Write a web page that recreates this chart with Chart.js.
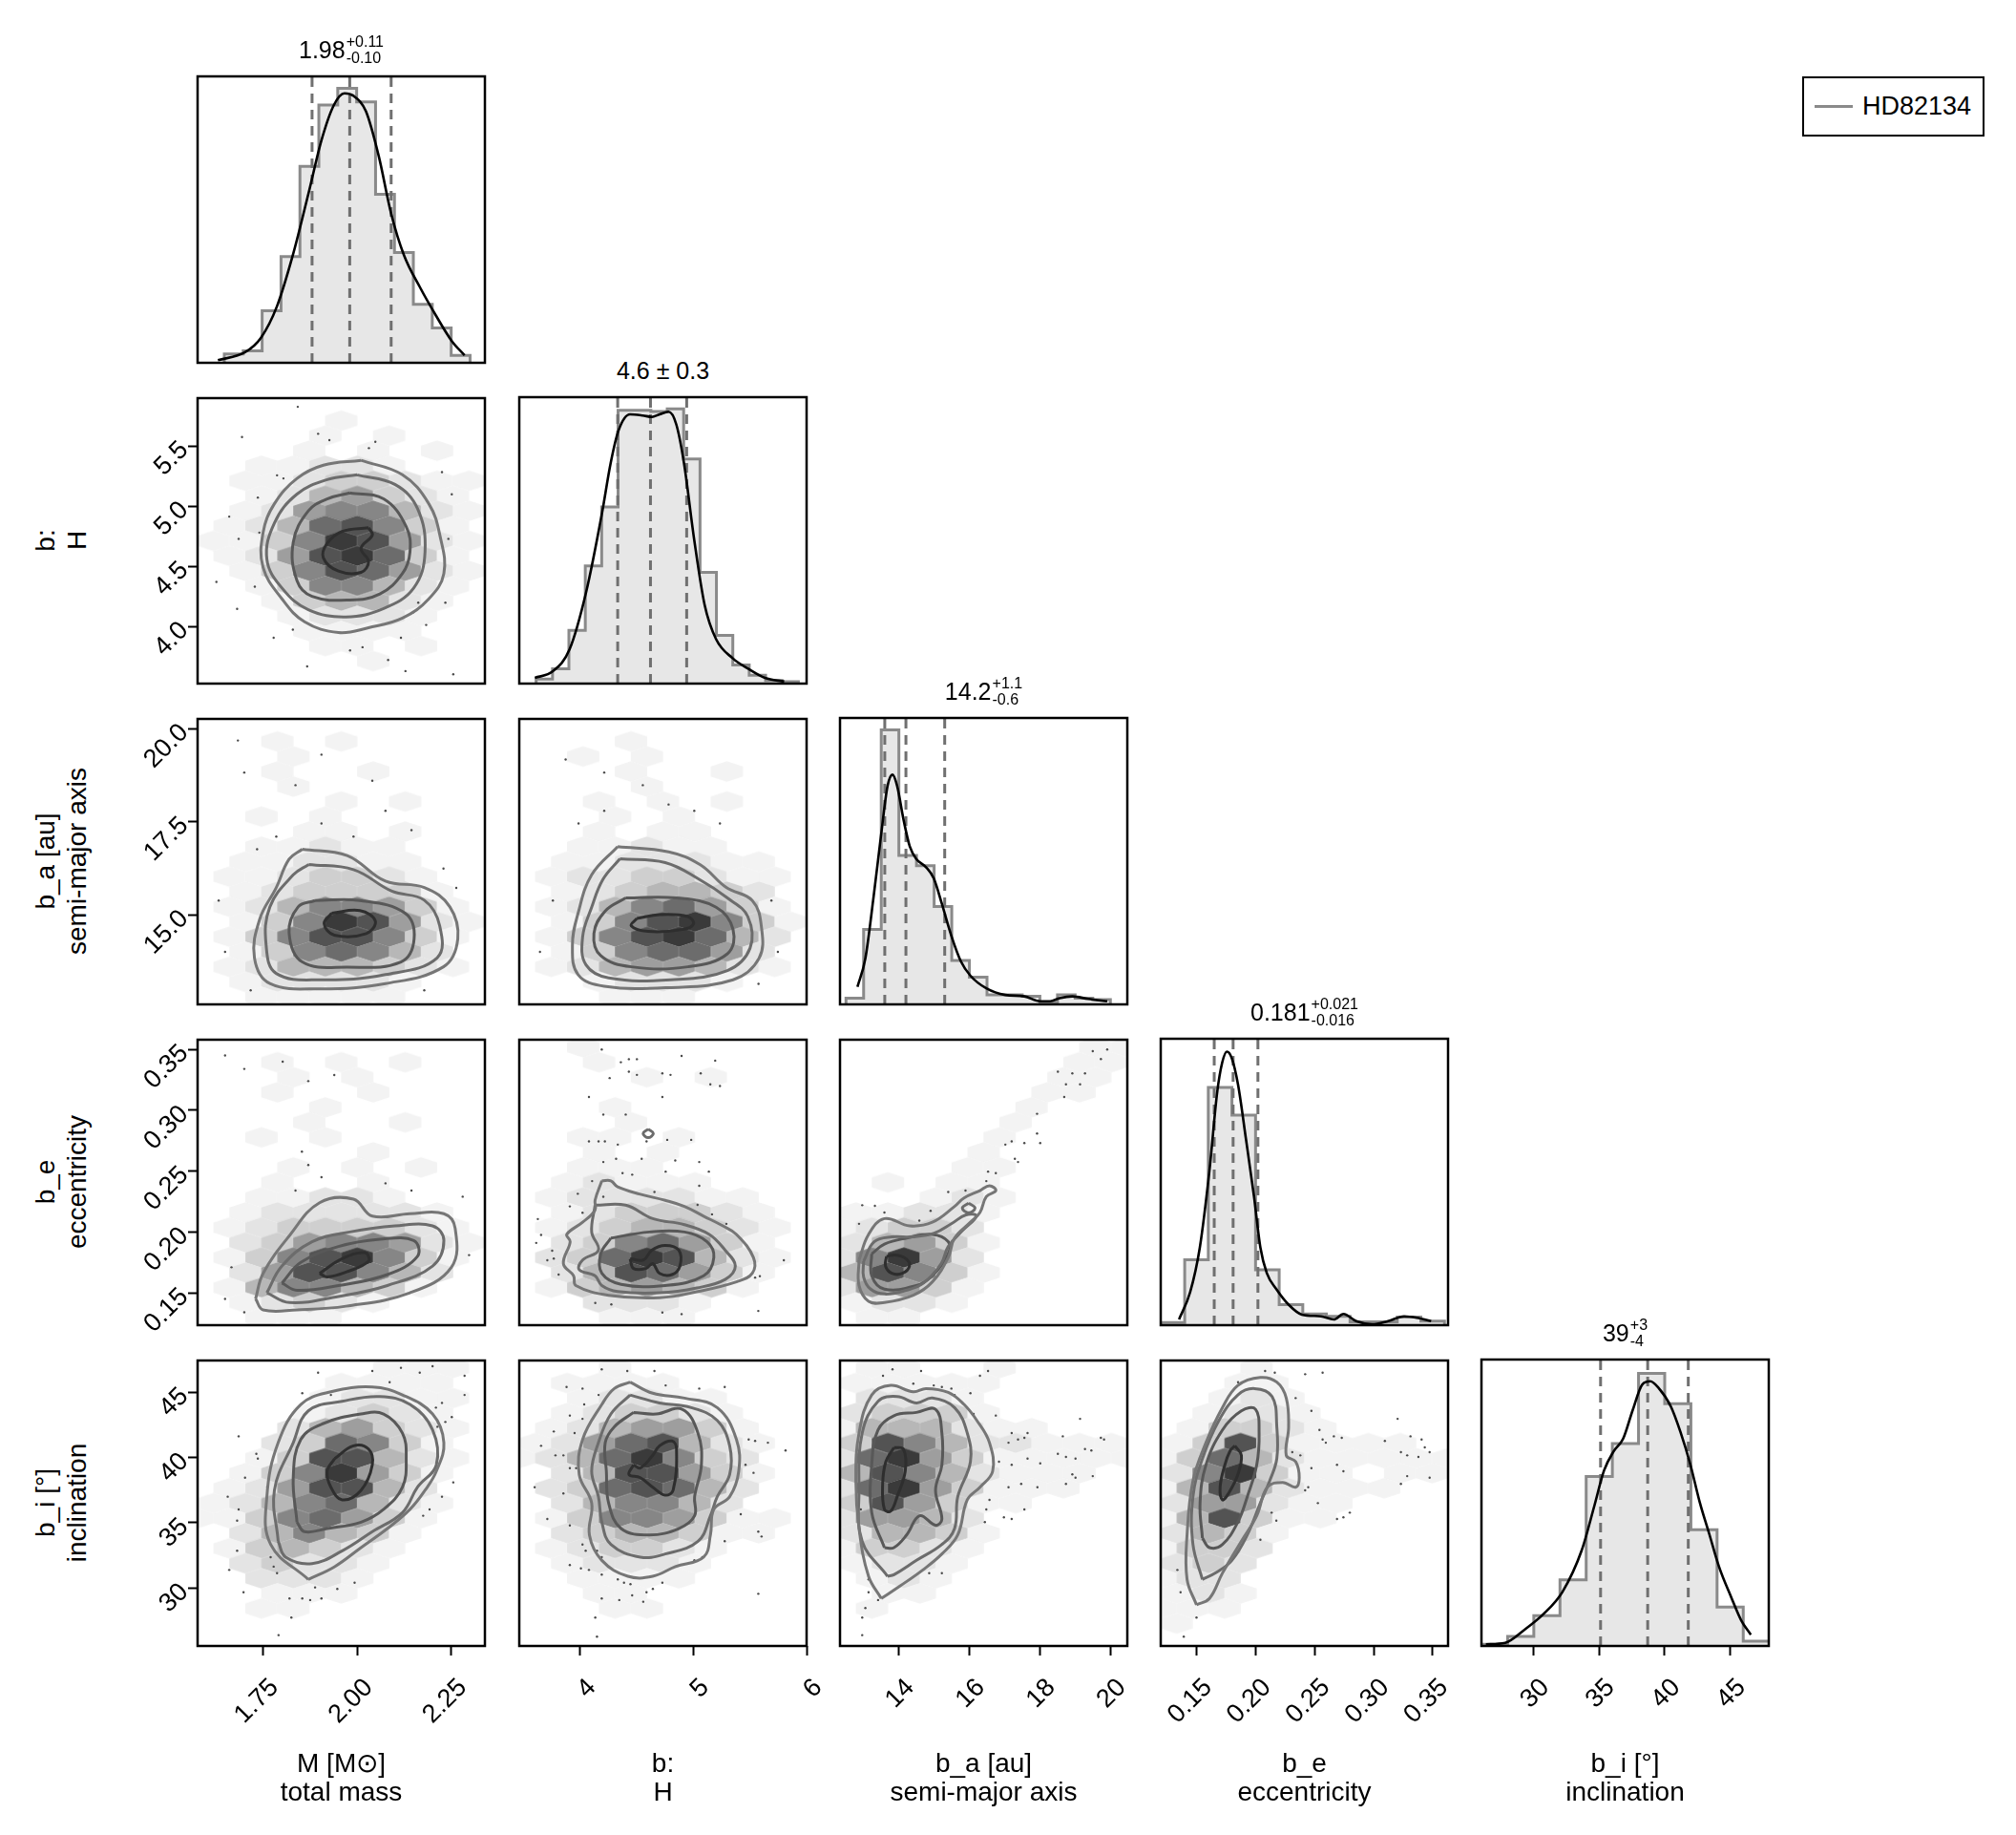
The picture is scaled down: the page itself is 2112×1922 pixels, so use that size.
<!DOCTYPE html>
<html lang="en">
<head>
<meta charset="UTF-8">
<title>HD82134 corner plot</title>
<script src="https://cdn.jsdelivr.net/npm/chart.js"></script>
<style>
    body { margin: 0; background: #fff; font-family: 'Liberation Sans', Arial, sans-serif; color: #000; }
    #page { position: relative; width: 2112px; height: 1922px; overflow: hidden; }
    canvas { position: absolute; }
    .ttl { position: absolute; transform: translate(-50%, -50%); font-size: 25px; display: flex; align-items: center; white-space: nowrap; }
    .pm { display: inline-flex; flex-direction: column; font-size: 16px; line-height: 17px; margin-left: 1px; }
    .xlab { position: absolute; transform: translateX(-50%); font-size: 28px; line-height: 30px; text-align: center; white-space: nowrap; }
    .ylab { position: absolute; transform: translate(-50%, -50%) rotate(-90deg); font-size: 28px; line-height: 33px; text-align: center; white-space: nowrap; }
    #legend { position: absolute; left: 1888px; top: 80px; width: 191px; height: 63px; box-sizing: border-box; border: 2.5px solid #000; font-size: 27px; display: flex; align-items: center; }
    #legend .ln { display: inline-block; width: 40px; height: 3px; background: #8a8a8a; margin: 0 10px 0 11px; }
</style>
</head>
<body>
<div id="page"></div>
<script>
    // ---- parameters (one per row / column)
    const varLabel = ['M [M⊙]', 'b:', 'b_a [au]', 'b_e', 'b_i [°]'];
    const varDesc = ['total mass', 'H', 'semi-major axis', 'eccentricity', 'inclination'];

    const xMin = [1.576, 3.46, 12.33, 0.1197, 26.0];
    const xMax = [2.339, 6.0, 20.48, 0.363, 47.95];
    const yMin = [0, 3.526, 12.59, 0.1234, 25.56];
    const yMax = [1, 5.897, 20.26, 0.358, 47.44];

    const xTicks = [[1.75, 2.0, 2.25], [4, 5, 6], [14, 16, 18, 20], [0.15, 0.2, 0.25, 0.3, 0.35], [30, 35, 40, 45]];
    const xTickLabels = [['1.75', '2.00', '2.25'], ['4', '5', '6'], ['14', '16', '18', '20'], ['0.15', '0.20', '0.25', '0.30', '0.35'], ['30', '35', '40', '45']];
    const yTicks = [[], [4.0, 4.5, 5.0, 5.5], [15, 17.5, 20], [0.15, 0.2, 0.25, 0.3, 0.35], [30, 35, 40, 45]];
    const yTickLabels = [[], ['4.0', '4.5', '5.0', '5.5'], ['15.0', '17.5', '20.0'], ['0.15', '0.20', '0.25', '0.30', '0.35'], ['30', '35', '40', '45']];

    const titleMain = ['1.98', '4.6 ± 0.3', '14.2', '0.181', '39'];
    const titleUp = ['+0.11', '', '+1.1', '+0.021', '+3'];
    const titleDown = ['-0.10', '', '-0.6', '-0.016', '-4'];

    // ---- marginal histograms (relative heights) and KDE curves
    const histStart = [1.647, 3.609, 12.5, 0.12, 26];
    const histWidth = [0.0502, 0.1449, 0.5, 0.02, 2];
    const histM = [0.031, 0.042, 0.182, 0.371, 0.686, 0.900, 0.958, 0.911, 0.588, 0.385, 0.204, 0.122, 0.026];
    const histH = [0.016, 0.052, 0.186, 0.411, 0.617, 0.954, 0.954, 0.950, 0.959, 0.784, 0.388, 0.168, 0.065, 0.029, 0.011, 0.007];
    const histA = [0.022, 0.262, 0.958, 0.520, 0.484, 0.342, 0.153, 0.095, 0.033, 0.033, 0.028, 0.008, 0.033, 0.022, 0.017];
    const histE = [0.009, 0.228, 0.830, 0.733, 0.193, 0.072, 0.039, 0.031, 0.012, 0.012, 0.028, 0.014];
    const histI = [0.006, 0.033, 0.106, 0.231, 0.592, 0.707, 0.952, 0.846, 0.406, 0.136, 0.017];

    const kdeM = [[1.630, 0.009], [1.702, 0.037], [1.744, 0.087], [1.787, 0.198], [1.829, 0.376], [1.871, 0.594], [1.905, 0.777], [1.938, 0.900], [1.966, 0.941], [1.989, 0.933], [2.023, 0.878], [2.057, 0.722], [2.090, 0.521], [2.124, 0.376], [2.166, 0.265], [2.209, 0.165], [2.251, 0.076], [2.285, 0.026]];
    const kdeH = [[3.598, 0.020], [3.757, 0.043], [3.904, 0.119], [4.052, 0.321], [4.189, 0.590], [4.268, 0.770], [4.336, 0.882], [4.439, 0.940], [4.552, 0.936], [4.632, 0.931], [4.700, 0.940], [4.780, 0.949], [4.848, 0.905], [4.916, 0.770], [5.007, 0.501], [5.098, 0.276], [5.200, 0.155], [5.348, 0.088], [5.484, 0.052], [5.632, 0.020], [5.802, 0.007]];
    const kdeA = [[12.825, 0.061], [13.05, 0.161], [13.28, 0.373], [13.50, 0.596], [13.68, 0.763], [13.82, 0.802], [13.95, 0.763], [14.14, 0.640], [14.31, 0.551], [14.50, 0.507], [14.77, 0.479], [14.99, 0.440], [15.22, 0.351], [15.49, 0.239], [15.76, 0.150], [16.03, 0.100], [16.48, 0.056], [17.02, 0.033], [17.56, 0.028], [18.01, 0.011], [18.29, 0.011], [18.56, 0.022], [18.92, 0.028], [19.37, 0.019], [19.91, 0.011]];
    const kdeE = [[0.1352, 0.020], [0.1446, 0.115], [0.1528, 0.271], [0.1609, 0.538], [0.1676, 0.816], [0.1717, 0.916], [0.1757, 0.955], [0.1798, 0.933], [0.1852, 0.839], [0.1919, 0.649], [0.1987, 0.449], [0.2041, 0.271], [0.2095, 0.182], [0.2176, 0.126], [0.2284, 0.070], [0.2392, 0.037], [0.2554, 0.031], [0.2663, 0.020], [0.2744, 0.039], [0.2852, 0.014], [0.2987, 0.003], [0.3122, 0.014], [0.3258, 0.031], [0.3365, 0.026], [0.3487, 0.014]];
    const kdeI = [[26.34, 0.006], [27.81, 0.011], [29.27, 0.056], [30.73, 0.111], [32.19, 0.189], [33.66, 0.334], [34.63, 0.490], [35.36, 0.612], [36.09, 0.679], [36.83, 0.724], [37.56, 0.824], [38.29, 0.913], [38.90, 0.924], [39.51, 0.902], [40.48, 0.835], [41.21, 0.746], [41.95, 0.635], [42.68, 0.501], [43.41, 0.390], [44.14, 0.278], [45.11, 0.167], [45.85, 0.089], [46.58, 0.039]];

    // 16th / 50th / 84th percentiles
    const qM = [1.88, 1.98, 2.09];
    const qH = [4.33, 4.62, 4.94];
    const qA = [13.6, 14.2, 15.3];
    const qE = [0.165, 0.181, 0.202];
    const qI = [35.1, 38.7, 41.8];

    // ---- hexbin density levels (0-9), rows from top, odd rows shifted half a cell
    const hex10 = ["..........", "....1.....", "....1.1...", "...1.1.1..", "..11221...", ".11233211.", "..1245321.", ".12566421.", ".12478631.", "113698521.", ".12589731.", ".13687521.", "..1366421.", "..134421..", "...12221..", "...1111...", "....11.1..", ".....1....", ".........."];
    const hex20 = ["..........", "..1.1.....", "...1......", "..1..1....", "...1......", "....1.1...", "..1.1.....", "...11.1...", "..11211...", ".112211...", ".1123321..", ".1233331..", ".12466531.", ".13698521.", ".13688631.", ".1367642..", ".12444321.", ".122221...", "..11111..."];
    const hex21 = ["..........", "...1......", "..1.1.....", "...1..1...", "....1.....", "..1.1.1...", "...1.1....", "..1.11....", "..11211...", ".1122211..", ".12233211.", ".1234432..", ".12467531.", ".13689631.", ".13689742.", ".1367752..", ".12455421.", "..12221...", "...111...."];
    const hex30 = ["..........", "..1.1.1...", "...1.1....", "..1..1....", "....1.....", "...1..1...", "..1.1.....", ".....1....", "...1.1.1..", "..1..1....", "..11221...", ".1222221..", ".12333321.", ".23566521.", ".13689631.", ".2588642..", ".1466431..", ".12321....", "..111....."];
    const hex31 = ["..1.......", "..1.......", "....1.1...", "..........", "...1......", "...1......", "..11.1....", "..1.1.....", "..111.....", ".12111....", ".1222211..", ".1233321..", ".12344321.", ".2367531..", ".23798421.", ".2487531..", ".1345431..", "..2221....", "...111...."];
    const hex32 = ["........11", ".......11.", ".......11.", "......11..", "......1...", ".....1....", ".....1....", "....1.....", "....11....", ".1.11.....", "...121....", "11221.....", "12332.....", "24531.....", "26952.....", "48631.....", "25531.....", "1221......", ".11......."];
    const hex40 = ["......111.", "....1111..", "....12211.", "...12321..", "...245321.", "..237631..", "..1388421.", ".1369531..", ".1258842..", "12467421..", "11367531..", ".246431...", ".134321...", ".23221....", "..2221....", "..111.....", "..11......", "..........", ".........."];
    const hex41 = ["...1......", ".1111.....", "..12211...", ".123321...", ".1245531..", "12578421..", "12479632..", ".2488531..", ".2378742..", ".246642...", ".13665311.", ".2344311..", ".123321...", ".12221....", "..1111....", "..11......", "...11.....", "..........", ".........."];
    const hex42 = [".11..1....", "11111.....", ".2221.....", "23331.....", "1444211...", "386422111.", "2795311111", "48642111..", "27953111..", "385311....", "25542.....", "24431.....", "13321.....", "1221......", ".121......", ".11.......", ".1........", "..........", ".........."];
    const hex43 = ["...1......", "..11......", "..121.....", ".1221.....", ".13321....", "13831111..", "1374211111", "269311.11.", "14842111..", "255211....", "148311....", "2431......", "1332......", "232.......", "122.......", "121.......", "111.......", "1.........", ".........."];

    // ---- density contours (outer to inner), [x, y] in data units
    const cont10 = [
        [[2.01, 5.38], [2.12, 5.26], [2.19, 5.02], [2.22, 4.75], [2.23, 4.44], [2.19, 4.23], [2.12, 4.07], [2.03, 3.99], [1.95, 3.95], [1.86, 4.04], [1.80, 4.23], [1.75, 4.49], [1.75, 4.78], [1.78, 5.02], [1.84, 5.23], [1.91, 5.34]],
        [[2.00, 5.26], [2.10, 5.18], [2.16, 4.98], [2.18, 4.62], [2.15, 4.32], [2.07, 4.15], [1.97, 4.08], [1.87, 4.14], [1.80, 4.32], [1.76, 4.56], [1.78, 4.86], [1.84, 5.10], [1.92, 5.22]],
        [[1.98, 5.11], [2.07, 5.06], [2.13, 4.83], [2.14, 4.62], [2.12, 4.44], [2.06, 4.27], [1.98, 4.22], [1.88, 4.25], [1.84, 4.38], [1.83, 4.70], [1.87, 4.96], [1.92, 5.06]],
        [[2.03, 4.82], [2.04, 4.76], [2.01, 4.65], [2.03, 4.54], [2.01, 4.45], [1.95, 4.46], [1.91, 4.57], [1.92, 4.69], [1.96, 4.79]]
    ];
    const cont20 = [
        [[1.854, 16.76], [1.973, 16.59], [2.075, 15.90], [2.178, 15.73], [2.246, 15.21], [2.267, 14.35], [2.229, 13.60], [2.075, 13.15], [1.905, 13.01], [1.768, 13.15], [1.727, 13.84], [1.741, 14.88], [1.785, 15.73], [1.819, 16.49]],
        [[1.871, 16.35], [1.990, 16.21], [2.092, 15.63], [2.178, 15.39], [2.219, 14.70], [2.212, 13.84], [2.075, 13.39], [1.905, 13.25], [1.785, 13.42], [1.758, 14.18], [1.768, 15.21], [1.830, 16.07]],
        [[1.888, 15.38], [2.007, 15.38], [2.127, 15.04], [2.151, 14.35], [2.116, 13.73], [1.973, 13.59], [1.854, 13.73], [1.819, 14.52], [1.843, 15.21]],
        [[1.932, 15.04], [2.007, 15.11], [2.048, 14.83], [2.024, 14.49], [1.939, 14.45], [1.912, 14.76]]
    ];
    const cont21 = [
        [[4.33, 16.83], [4.78, 16.69], [5.06, 16.34], [5.29, 15.73], [5.52, 15.38], [5.60, 14.69], [5.58, 13.83], [5.35, 13.25], [4.78, 13.04], [4.21, 13.08], [3.98, 13.39], [3.93, 14.18], [3.98, 15.04], [4.10, 16.07]],
        [[4.35, 16.5], [4.75, 16.4], [5.05, 15.95], [5.30, 15.45], [5.48, 14.95], [5.50, 14.1], [5.30, 13.5], [4.80, 13.25], [4.25, 13.3], [4.05, 13.65], [4.02, 14.4], [4.10, 15.2], [4.20, 15.95]],
        [[4.40, 15.45], [4.85, 15.45], [5.20, 15.2], [5.35, 14.6], [5.30, 13.95], [4.95, 13.6], [4.45, 13.6], [4.18, 13.9], [4.12, 14.5], [4.22, 15.1]],
        [[4.50, 14.9], [4.70, 15.0], [4.95, 14.95], [5.0, 14.75], [4.9, 14.6], [4.6, 14.55], [4.45, 14.7]]
    ];
    const cont30 = [
        [[1.73, 0.145], [1.75, 0.166], [1.82, 0.197], [1.90, 0.224], [1.99, 0.227], [2.04, 0.213], [2.14, 0.215], [2.23, 0.215], [2.26, 0.203], [2.25, 0.171], [2.14, 0.150], [1.97, 0.139], [1.84, 0.136], [1.75, 0.136]],
        [[1.76, 0.150], [1.80, 0.172], [1.88, 0.192], [1.98, 0.200], [2.10, 0.205], [2.20, 0.205], [2.23, 0.193], [2.20, 0.172], [2.08, 0.156], [1.95, 0.147], [1.82, 0.142]],
        [[1.80, 0.158], [1.85, 0.175], [1.95, 0.188], [2.06, 0.194], [2.15, 0.193], [2.16, 0.180], [2.08, 0.165], [1.95, 0.156], [1.84, 0.152]],
        [[1.90, 0.166], [1.96, 0.178], [2.02, 0.183], [2.03, 0.176], [1.97, 0.167], [1.92, 0.163]]
    ];
    const cont31 = [
        [[4.19, 0.242], [4.27, 0.242], [4.33, 0.237], [4.53, 0.231], [4.75, 0.226], [4.92, 0.221], [5.09, 0.213], [5.26, 0.205], [5.38, 0.198], [5.53, 0.179], [5.52, 0.166], [5.38, 0.159], [5.04, 0.151], [4.70, 0.146], [4.25, 0.148], [3.96, 0.156], [3.94, 0.164], [3.85, 0.174], [3.91, 0.192], [3.88, 0.198], [4.02, 0.208], [4.13, 0.218], [4.13, 0.226]],
        [[4.13, 0.222], [4.40, 0.222], [4.64, 0.211], [4.92, 0.206], [5.14, 0.198], [5.28, 0.185], [5.37, 0.172], [5.28, 0.161], [5.03, 0.154], [4.70, 0.150], [4.33, 0.151], [4.19, 0.156], [4.13, 0.164], [3.99, 0.169], [4.02, 0.177], [4.16, 0.185], [4.10, 0.200]],
        [[4.27, 0.195], [4.61, 0.200], [4.92, 0.200], [5.12, 0.192], [5.18, 0.179], [5.09, 0.164], [4.75, 0.156], [4.36, 0.157], [4.19, 0.166], [4.18, 0.182]],
        [[4.44, 0.178], [4.56, 0.177], [4.63, 0.185], [4.75, 0.189], [4.87, 0.185], [4.88, 0.172], [4.81, 0.165], [4.70, 0.166], [4.64, 0.174], [4.58, 0.170], [4.47, 0.170]],
        [[4.60, 0.2845], [4.645, 0.281], [4.60, 0.2775], [4.555, 0.281]]
    ];
    const cont32 = [
        [[12.87, 0.177], [13.14, 0.198], [13.59, 0.211], [14.31, 0.205], [14.95, 0.208], [15.58, 0.221], [15.85, 0.228], [16.30, 0.234], [16.57, 0.238], [16.75, 0.234], [16.48, 0.229], [16.30, 0.216], [16.03, 0.208], [15.58, 0.195], [15.40, 0.179], [14.95, 0.159], [14.41, 0.148], [13.59, 0.142], [13.14, 0.143], [12.87, 0.156]],
        [[13.0, 0.176], [13.3, 0.192], [13.8, 0.196], [14.4, 0.196], [15.0, 0.199], [15.5, 0.207], [15.9, 0.214], [16.2, 0.213], [15.8, 0.201], [15.4, 0.188], [15.2, 0.174], [14.7, 0.158], [14.2, 0.152], [13.6, 0.149], [13.2, 0.153], [13.0, 0.163]],
        [[13.23, 0.182], [13.59, 0.190], [14.22, 0.195], [14.95, 0.198], [15.40, 0.192], [15.40, 0.182], [14.95, 0.164], [14.50, 0.156], [13.59, 0.153], [13.23, 0.164]],
        [[13.65, 0.180], [13.90, 0.181], [14.20, 0.178], [14.30, 0.172], [14.10, 0.166], [13.80, 0.166], [13.62, 0.172]],
        [[15.98, 0.2237], [16.16, 0.2197], [15.98, 0.2157], [15.80, 0.2197]]
    ];
    const cont40 = [
        [[1.87, 30.66], [1.77, 33.34], [1.76, 37.00], [1.79, 41.14], [1.85, 44.07], [1.93, 45.04], [2.04, 45.41], [2.12, 44.80], [2.20, 43.34], [2.23, 41.14], [2.21, 38.95], [2.18, 37.49], [2.14, 36.03], [2.08, 34.56], [2.01, 33.10], [1.94, 31.64]],
        [[1.79, 33.58], [1.78, 37.49], [1.83, 41.14], [1.87, 43.58], [1.96, 44.31], [2.06, 44.68], [2.14, 44.07], [2.20, 42.12], [2.21, 39.44], [2.16, 37.73], [2.12, 35.78], [2.04, 34.32], [1.96, 32.85], [1.88, 31.87], [1.81, 32.36]],
        [[1.84, 35.05], [1.83, 38.46], [1.85, 41.39], [1.91, 42.61], [2.01, 43.34], [2.07, 43.34], [2.12, 41.87], [2.13, 39.92], [2.12, 37.73], [2.07, 36.03], [2.01, 35.05], [1.92, 34.56], [1.86, 34.32]],
        [[1.94, 39.92], [1.99, 40.90], [2.03, 40.65], [2.04, 39.44], [2.01, 37.49], [1.96, 36.76], [1.93, 37.73], [1.92, 38.95]]
    ];
    const cont41 = [
        [[4.44, 45.78], [4.64, 44.93], [4.92, 44.56], [5.21, 43.83], [5.38, 41.39], [5.40, 38.95], [5.32, 37.00], [5.18, 36.03], [5.15, 34.07], [5.09, 32.37], [4.84, 31.64], [4.64, 30.90], [4.42, 30.90], [4.19, 32.12], [4.08, 34.07], [4.10, 36.51], [3.99, 38.70], [4.02, 41.39], [4.19, 44.07], [4.30, 45.29]],
        [[4.44, 44.80], [4.70, 44.19], [4.98, 43.83], [5.21, 42.85], [5.32, 40.90], [5.32, 38.70], [5.21, 37.00], [5.15, 35.54], [5.04, 33.58], [4.75, 32.61], [4.53, 32.37], [4.27, 33.34], [4.19, 35.05], [4.16, 37.00], [4.10, 38.95], [4.16, 41.14], [4.27, 43.34]],
        [[4.47, 43.46], [4.67, 43.34], [4.90, 43.70], [5.04, 41.87], [5.07, 39.44], [5.01, 37.00], [5.01, 35.54], [4.87, 34.56], [4.61, 34.07], [4.36, 34.56], [4.25, 36.51], [4.23, 38.95], [4.22, 41.14], [4.30, 42.36]],
        [[4.47, 39.44], [4.53, 39.20], [4.64, 40.17], [4.70, 40.90], [4.81, 41.27], [4.85, 40.65], [4.82, 37.49], [4.75, 37.12], [4.64, 37.73], [4.53, 38.46], [4.43, 38.70]]
    ];
    const cont42 = [
        [[13.50, 29.20], [13.14, 30.90], [12.87, 34.56], [12.78, 38.22], [12.87, 41.88], [13.23, 44.80], [13.77, 45.53], [14.41, 45.04], [14.77, 45.29], [15.40, 45.00], [15.85, 44.07], [16.21, 42.85], [16.57, 41.14], [16.66, 38.95], [16.30, 37.73], [15.94, 36.76], [15.67, 34.07], [15.22, 32.61], [14.68, 31.39], [14.04, 30.17]],
        [[13.68, 30.90], [12.96, 33.58], [12.87, 37.49], [12.96, 41.88], [13.41, 44.31], [13.95, 44.68], [14.50, 44.19], [14.95, 44.56], [15.58, 43.83], [15.94, 41.88], [16.03, 39.68], [15.67, 37.00], [15.58, 34.56], [15.22, 33.34], [14.50, 32.12], [13.86, 31.02]],
        [[13.59, 33.10], [13.23, 35.78], [13.23, 39.44], [13.41, 42.12], [13.86, 43.21], [14.50, 43.46], [15.04, 43.70], [15.22, 41.88], [15.22, 39.44], [15.04, 37.49], [15.22, 35.29], [15.04, 34.81], [14.59, 35.54], [14.22, 34.07], [13.86, 33.10]],
        [[13.86, 40.77], [14.13, 40.65], [14.18, 38.95], [13.95, 37.00], [13.77, 35.90], [13.59, 36.03], [13.54, 37.97], [13.63, 39.68]]
    ];
    const cont43 = [
        [[0.150, 28.71], [0.142, 30.66], [0.142, 34.07], [0.147, 38.22], [0.158, 41.14], [0.172, 43.83], [0.185, 45.53], [0.204, 46.14], [0.218, 45.78], [0.226, 44.56], [0.228, 42.36], [0.226, 40.17], [0.234, 39.68], [0.237, 38.46], [0.234, 37.73], [0.223, 38.10], [0.210, 37.73], [0.201, 35.54], [0.188, 33.59], [0.172, 31.15], [0.161, 29.20]],
        [[0.155, 30.66], [0.147, 33.34], [0.147, 37.00], [0.155, 39.92], [0.169, 42.85], [0.185, 44.80], [0.199, 45.29], [0.214, 44.68], [0.218, 42.36], [0.218, 39.92], [0.212, 38.22], [0.204, 36.51], [0.193, 34.07], [0.180, 32.12], [0.166, 31.15]],
        [[0.155, 33.83], [0.153, 36.51], [0.158, 39.44], [0.172, 42.12], [0.188, 43.58], [0.200, 43.70], [0.203, 41.88], [0.201, 39.44], [0.193, 37.00], [0.185, 35.05], [0.172, 33.34], [0.161, 33.10]],
        [[0.1825, 40.90], [0.188, 40.17], [0.185, 38.70], [0.177, 37.24], [0.172, 36.76], [0.170, 37.73], [0.174, 39.44], [0.1785, 40.53]]
    ];

    // ---- loose samples outside the contours
    const dots10 = [[1.842, 5.825], [1.694, 5.574], [1.896, 5.601], [1.926, 5.548], [2.031, 5.482], [2.048, 5.534], [1.787, 5.256], [1.804, 5.230], [1.736, 5.071], [2.225, 5.283], [2.251, 5.098], [1.685, 4.728], [1.660, 4.913], [1.740, 4.780], [2.242, 4.728], [1.626, 4.371], [1.728, 4.331], [1.681, 4.146], [1.778, 3.907], [1.829, 3.974], [1.867, 3.669], [2.082, 3.722], [2.128, 3.630], [2.255, 3.603], [2.149, 4.119], [2.162, 4.198], [2.183, 4.013], [2.234, 4.198], [2.116, 3.907], [2.014, 3.828], [1.981, 3.802]];
    const dots20 = [[1.683, 19.68], [1.700, 18.82], [1.836, 18.48], [1.905, 17.45], [1.990, 17.10], [2.075, 17.79], [2.144, 17.27], [1.734, 16.76], [1.785, 17.10], [2.229, 16.24], [2.263, 15.72], [1.632, 15.38], [1.649, 14.00], [1.717, 12.97], [2.178, 12.97], [1.905, 19.30], [2.040, 18.60]];
    const dots21 = [[3.870, 19.17], [4.211, 18.82], [4.552, 18.48], [4.780, 17.96], [5.007, 17.79], [5.234, 17.45], [3.984, 17.45], [3.757, 15.38], [3.643, 14.00], [5.689, 15.38], [5.746, 14.00], [5.575, 13.14], [4.211, 17.79]];
    const dots30 = [[1.649, 0.345], [1.700, 0.334], [1.802, 0.340], [1.870, 0.324], [1.939, 0.329], [1.853, 0.266], [1.870, 0.255], [1.905, 0.245], [1.836, 0.234], [2.075, 0.240], [2.144, 0.234], [2.280, 0.229], [1.666, 0.171], [1.649, 0.145], [1.700, 0.134], [2.297, 0.181]];
    const dots31 = [[4.189, 0.350], [4.429, 0.342], [4.500, 0.342], [4.358, 0.3395], [4.259, 0.3265], [4.429, 0.3317], [4.500, 0.3291], [4.725, 0.3304], [4.797, 0.3291], [4.895, 0.3447], [5.192, 0.3408], [5.064, 0.3304], [5.149, 0.3213], [5.234, 0.3200], [4.076, 0.3109], [4.725, 0.3109], [4.203, 0.2965], [4.401, 0.2965], [4.076, 0.2744], [4.161, 0.2744], [4.217, 0.2744], [4.331, 0.2718], [4.585, 0.2744], [4.768, 0.2757], [4.980, 0.2757], [4.203, 0.2575], [4.316, 0.2601], [4.542, 0.2601], [4.839, 0.2588], [5.051, 0.2575], [5.136, 0.2496], [4.754, 0.2496], [4.458, 0.2471], [4.373, 0.2484], [4.104, 0.2418], [4.655, 0.2328], [5.051, 0.2379], [3.977, 0.2314], [4.203, 0.2289], [3.907, 0.2210], [4.019, 0.2158], [3.624, 0.2106], [3.653, 0.1976], [3.610, 0.1910], [3.708, 0.1768], [3.765, 0.1781], [3.751, 0.1846], [3.808, 0.1650], [5.036, 0.2223], [5.164, 0.2145], [5.291, 0.2067], [5.545, 0.1625], [5.587, 0.1637], [5.799, 0.1768], [5.573, 0.1351], [4.895, 0.1325], [4.725, 0.1338], [4.132, 0.1416], [4.274, 0.1405]];
    const dots32 = [[12.96, 0.222], [13.32, 0.2215], [12.87, 0.2067], [13.59, 0.216], [14.58, 0.2093], [14.90, 0.2174], [15.40, 0.2328], [15.89, 0.234], [16.48, 0.2418], [16.53, 0.2496], [16.75, 0.2483], [17.02, 0.2718], [17.20, 0.2744], [17.56, 0.2731], [18.01, 0.2731], [17.29, 0.2601], [17.38, 0.2575], [17.92, 0.2809], [17.92, 0.2971], [18.69, 0.3109], [18.74, 0.3213], [19.14, 0.3213], [18.92, 0.3304], [19.28, 0.3304], [19.50, 0.3486], [19.91, 0.3499], [19.73, 0.3421], [18.51, 0.3317]];
    const dots40 = [[1.685, 41.63], [1.732, 40.29], [1.736, 39.92], [1.702, 38.46], [1.761, 37.73], [1.656, 37.00], [1.685, 36.02], [1.681, 35.17], [1.681, 32.86], [1.660, 31.39], [1.698, 29.68], [1.770, 32.37], [1.778, 31.64], [1.787, 31.14], [1.820, 29.20], [1.854, 29.20], [1.875, 29.08], [1.905, 29.20], [1.888, 30.05], [1.947, 29.93], [1.993, 30.41], [1.791, 26.39], [1.825, 27.74], [2.040, 46.63], [2.086, 45.78], [2.116, 46.88], [2.166, 46.51], [2.200, 47.00], [2.209, 43.83], [2.225, 44.19], [2.251, 43.10], [2.234, 42.73], [2.213, 42.36], [2.285, 46.27], [2.285, 44.80], [2.255, 38.10], [2.225, 37.00], [2.192, 36.02], [2.175, 35.54], [1.896, 46.51], [1.930, 44.80], [1.854, 44.93]];
    const dots41 = [[4.189, 46.76], [4.415, 46.63], [4.655, 46.63], [4.754, 45.53], [5.051, 45.29], [5.276, 45.41], [3.878, 45.41], [4.019, 45.29], [4.161, 44.80], [4.034, 44.07], [3.907, 43.22], [4.019, 42.97], [3.765, 42.00], [3.949, 41.88], [3.653, 40.90], [3.780, 40.17], [3.850, 40.17], [3.907, 39.19], [3.963, 39.19], [3.596, 37.73], [3.850, 37.25], [3.708, 35.29], [3.907, 34.80], [4.019, 33.34], [4.047, 32.86], [4.147, 32.86], [4.189, 32.37], [3.907, 31.76], [4.005, 31.51], [4.076, 31.39], [4.189, 31.03], [4.331, 30.66], [4.386, 30.41], [4.443, 30.30], [4.585, 29.68], [4.641, 29.93], [4.725, 30.41], [4.189, 29.20], [4.344, 29.08], [4.458, 29.44], [4.556, 28.95], [4.132, 27.74], [4.147, 26.27], [5.488, 41.39], [5.545, 41.27], [5.460, 39.44], [5.531, 38.83], [5.658, 41.14], [5.814, 40.54], [5.573, 34.32], [5.602, 33.95], [5.418, 35.66], [5.573, 29.56], [5.276, 33.59], [5.079, 32.37], [5.008, 32.13]];
    const dots42 = [[13.82, 46.76], [13.55, 46.27], [14.63, 46.63], [14.41, 45.66], [14.99, 45.53], [15.22, 45.41], [15.49, 45.29], [15.58, 44.80], [16.03, 44.93], [16.30, 46.27], [16.53, 46.63], [16.12, 43.34], [16.75, 43.22], [17.20, 41.88], [17.38, 41.39], [17.65, 41.88], [17.56, 41.51], [17.11, 41.14], [18.65, 41.63], [19.14, 42.97], [19.73, 41.51], [19.82, 41.39], [18.51, 40.29], [18.74, 40.05], [19.01, 39.92], [19.28, 40.65], [19.46, 40.54], [18.92, 38.71], [19.01, 38.46], [19.50, 38.58], [18.74, 37.98], [16.84, 39.68], [17.20, 39.44], [17.65, 39.92], [18.01, 39.56], [17.93, 37.73], [17.47, 37.98], [17.11, 37.73], [16.57, 36.76], [16.48, 36.02], [17.56, 36.02], [17.20, 35.29], [16.98, 35.42], [16.44, 35.05], [14.86, 31.14], [15.22, 31.14], [13.14, 29.68], [13.41, 29.08], [13.05, 28.47], [12.96, 27.74], [12.96, 26.39], [13.14, 30.66], [12.87, 34.56], [12.92, 36.02]];
    const dots43 = [[0.2081, 46.63], [0.2163, 46.51], [0.2420, 46.39], [0.2568, 46.51], [0.1852, 45.78], [0.2339, 44.56], [0.2473, 43.58], [0.2541, 42.12], [0.2568, 41.39], [0.2595, 41.14], [0.2663, 41.63], [0.2730, 41.51], [0.3203, 42.97], [0.3095, 41.27], [0.3312, 41.63], [0.3406, 41.39], [0.3433, 40.78], [0.3231, 40.41], [0.3284, 40.17], [0.3379, 40.05], [0.3474, 40.41], [0.3284, 38.58], [0.3231, 37.98], [0.3474, 38.46], [0.2311, 40.41], [0.2379, 40.17], [0.2473, 39.19], [0.2690, 39.44], [0.2744, 38.95], [0.2446, 37.73], [0.2420, 37.49], [0.2528, 36.51], [0.2690, 35.29], [0.2744, 35.42], [0.2798, 35.78], [0.2176, 35.17], [0.2136, 35.78], [0.2041, 33.70], [0.1338, 31.39], [0.1365, 29.68], [0.15, 27.74], [0.1392, 26.27]];

    // ---- layout
    const FONT = "'Liberation Sans', Arial, sans-serif";
    const PLOT_LEFT = [207, 544, 880, 1216, 1552];
    const PLOT_TOP = [80, 416, 752, 1088, 1424];
    const PLOT_W = 301, PLOT_H = 300;
    const M_L = 110, M_B = 130, M_T = 12, M_R = 40;
    const HEX_NX = 9, HEX_NY = 19;
    const hexGrays = ['#f3f3f3', '#e4e4e4', '#cfcfcf', '#b7b7b7', '#9e9e9e', '#868686', '#6c6c6c', '#535353', '#3a3a3a'];
    const contourColors = ['#767676', '#6c6c6c', '#585858', '#2e2e2e', '#6c6c6c'];

    const page = document.getElementById('page');

    function hexImage(color) {
        const w = PLOT_W / HEX_NX + 0.3, h = (PLOT_H / HEX_NY) * 4 / 3 + 0.3;
        const cv = document.createElement('canvas');
        cv.width = Math.ceil(w) + 2;
        cv.height = Math.ceil(h) + 2;
        const g = cv.getContext('2d');
        const cx = cv.width / 2, cy = cv.height / 2;
        g.fillStyle = color;
        g.beginPath();
        g.moveTo(cx, cy - h / 2);
        g.lineTo(cx + w / 2, cy - h / 4);
        g.lineTo(cx + w / 2, cy + h / 4);
        g.lineTo(cx, cy + h / 2);
        g.lineTo(cx - w / 2, cy + h / 4);
        g.lineTo(cx - w / 2, cy - h / 4);
        g.closePath();
        g.fill();
        return cv;
    }
    const hexImgs = hexGrays.map(hexImage);

    function hexPoints(pattern, x0, x1, y0, y1) {
        const dx = (x1 - x0) / HEX_NX, dy = (y1 - y0) / HEX_NY;
        const pts = [];
        pattern.forEach((row, r) => {
            for (let c = 0; c < row.length; c++) {
                const lv = parseInt(row[c], 10);
                if (!lv) continue;
                pts.push({ x: x0 + (c + (r % 2) * 0.5) * dx, y: y1 - (r + 0.5) * dy, lv: lv });
            }
        });
        return pts;
    }

    const toXY = arr => arr.map(p => ({ x: p[0], y: p[1] }));
    const closed = arr => toXY(arr.concat([arr[0]]));

    const boxPlugin = {
        id: 'box',
        afterDraw(chart) {
            const { ctx, chartArea: a } = chart;
            ctx.save();
            ctx.strokeStyle = '#000';
            ctx.lineWidth = 2.5;
            ctx.strokeRect(a.left, a.top, a.right - a.left, a.bottom - a.top);
            ctx.restore();
        }
    };

    function scaleCfg(axis, min, max, ticks, labels, show) {
        return {
            type: 'linear', min: min, max: max,
            afterBuildTicks: s => { s.ticks = ticks.map(v => ({ value: v })); },
            afterFit: s => {
                if (axis === 'x') s.height = M_B; else s.width = M_L;
                // keep every plot box the same size, whatever the tick labels need
                s.paddingLeft = 0; s.paddingRight = 0; s.paddingTop = 0; s.paddingBottom = 0;
            },
            ticks: {
                display: show, autoSkip: false, minRotation: 45, maxRotation: 45,
                padding: axis === 'x' ? 18 : 4, labelOffset: axis === 'x' ? 12 : 0,
                color: '#000', font: { family: FONT, size: 27 },
                callback: (v, i) => labels[i]
            },
            grid: { display: show, drawOnChartArea: false, drawTicks: true, tickLength: 10, tickWidth: 2, tickColor: '#000', color: '#000' },
            border: { display: false }
        };
    }

    function makeChart(row, col, datasets, yLo, yHi, showX, showY) {
        const cv = document.createElement('canvas');
        cv.width = M_L + PLOT_W + M_R;
        cv.height = M_T + PLOT_H + M_B;
        cv.style.left = (PLOT_LEFT[col] - M_L) + 'px';
        cv.style.top = (PLOT_TOP[row] - M_T) + 'px';
        page.appendChild(cv);
        return new Chart(cv.getContext('2d'), {
            type: 'scatter',
            data: { datasets: datasets },
            options: {
                responsive: false, animation: false, devicePixelRatio: 1, events: [],
                layout: { padding: { top: M_T, right: M_R, left: 0, bottom: 0 } },
                plugins: { legend: { display: false }, tooltip: { enabled: false } },
                scales: {
                    x: scaleCfg('x', xMin[col], xMax[col], xTicks[col], xTickLabels[col], showX),
                    y: scaleCfg('y', yLo, yHi, showY ? yTicks[row] : [], showY ? yTickLabels[row] : [], showY)
                }
            },
            plugins: [boxPlugin]
        });
    }

    // ---- diagonal: histograms
    const hists = [histM, histH, histA, histE, histI];
    const kdes = [kdeM, kdeH, kdeA, kdeE, kdeI];
    const quants = [qM, qH, qA, qE, qI];

    for (let k = 0; k < 5; k++) {
        const h = hists[k];
        const pts = [{ x: histStart[k], y: 0 }];
        h.forEach((v, i) => pts.push({ x: histStart[k] + i * histWidth[k], y: v }));
        pts.push({ x: histStart[k] + h.length * histWidth[k], y: h[h.length - 1] });
        pts.push({ x: histStart[k] + h.length * histWidth[k], y: 0 });

        const ds = [
            { type: 'line', data: toXY(kdes[k]), borderColor: '#000', borderWidth: 2.6, pointRadius: 0, cubicInterpolationMode: 'monotone', fill: false, clip: 0, order: 0 }
        ];
        quants[k].forEach(q => ds.push({ type: 'line', data: [{ x: q, y: 0 }, { x: q, y: 1 }], borderColor: '#707070', borderWidth: 3, borderDash: [10, 7], pointRadius: 0, fill: false, clip: 0, order: 1 }));
        ds.push({ type: 'line', data: pts, stepped: true, borderColor: '#8a8a8a', borderWidth: 3, backgroundColor: '#e7e7e7', fill: 'origin', pointRadius: 0, clip: 0, order: 2 });
        makeChart(k, k, ds, 0, 1, k === 4, false);
    }

    // ---- off-diagonal: hexbins + contours + loose samples
    const pairs = [
        [1, 0, hex10, cont10, dots10], [2, 0, hex20, cont20, dots20], [2, 1, hex21, cont21, dots21],
        [3, 0, hex30, cont30, dots30], [3, 1, hex31, cont31, dots31], [3, 2, hex32, cont32, dots32],
        [4, 0, hex40, cont40, dots40], [4, 1, hex41, cont41, dots41], [4, 2, hex42, cont42, dots42], [4, 3, hex43, cont43, dots43]
    ];
    pairs.forEach(([r, c, hex, cont, dots]) => {
        const ds = cont.map((poly, i) => ({
            type: 'line', data: closed(poly), borderColor: contourColors[i], borderWidth: 3,
            pointRadius: 0, tension: 0.4, fill: false, clip: 0, order: 1
        }));
        ds.push({
            type: 'scatter', data: toXY(dots), pointRadius: 1.2, pointBorderWidth: 0,
            backgroundColor: '#4a4a4a', clip: 0, order: 2
        });
        ds.push({
            type: 'scatter', data: hexPoints(hex, xMin[c], xMax[c], yMin[r], yMax[r]),
            pointStyle: ctx => hexImgs[ctx.raw.lv - 1], pointRadius: 12, clip: 0, order: 3
        });
        makeChart(r, c, ds, yMin[r], yMax[r], r === 4, c === 0);
    });

    // ---- text: titles, axis labels, legend
    for (let k = 0; k < 5; k++) {
        const t = document.createElement('div');
        t.className = 'ttl';
        t.style.left = (PLOT_LEFT[k] + PLOT_W / 2) + 'px';
        t.style.top = (PLOT_TOP[k] - 28) + 'px';
        t.appendChild(document.createTextNode(titleMain[k]));
        if (titleUp[k]) {
            const pm = document.createElement('span');
            pm.className = 'pm';
            pm.innerHTML = '<span>' + titleUp[k] + '</span><span>' + titleDown[k] + '</span>';
            t.appendChild(pm);
        }
        page.appendChild(t);

        const xl = document.createElement('div');
        xl.className = 'xlab';
        xl.style.left = (PLOT_LEFT[k] + PLOT_W / 2) + 'px';
        xl.style.top = '1832px';
        xl.innerHTML = varLabel[k] + '<br>' + varDesc[k];
        page.appendChild(xl);

        if (k > 0) {
            const yl = document.createElement('div');
            yl.className = 'ylab';
            yl.style.left = '64px';
            yl.style.top = (PLOT_TOP[k] + PLOT_H / 2) + 'px';
            yl.innerHTML = varLabel[k] + '<br>' + varDesc[k];
            page.appendChild(yl);
        }
    }

    const lg = document.createElement('div');
    lg.id = 'legend';
    lg.innerHTML = '<span class="ln"></span>HD82134';
    page.appendChild(lg);
</script>
</body>
</html>
